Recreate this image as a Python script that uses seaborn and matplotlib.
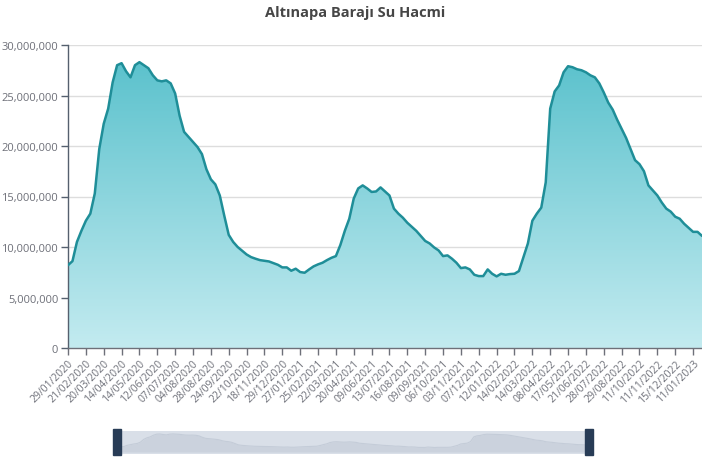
import numpy as np
import pandas as pd
import matplotlib
matplotlib.use("Agg")
import matplotlib.pyplot as plt
from matplotlib.patches import Rectangle
from matplotlib.ticker import FuncFormatter, MultipleLocator
from matplotlib.colors import LinearSegmentedColormap
import seaborn as sns

title = "Altınapa Barajı Su Hacmi"

# date labels shown on the x axis (one every 4 measurements)
tick_labels = [
    "29/01/2020", "21/02/2020", "20/03/2020", "14/04/2020", "14/05/2020", "12/06/2020",
    "07/07/2020", "04/08/2020", "28/08/2020", "24/09/2020", "22/10/2020", "18/11/2020",
    "29/12/2020", "27/01/2021", "25/02/2021", "22/03/2021", "20/04/2021", "09/06/2021",
    "13/07/2021", "16/08/2021", "09/09/2021", "06/10/2021", "03/11/2021", "07/12/2021",
    "12/01/2022", "14/02/2022", "14/03/2022", "08/04/2022", "17/05/2022", "21/06/2022",
    "28/07/2022", "29/08/2022", "11/10/2022", "11/11/2022", "15/12/2022", "11/01/2023",
]
points_per_tick = 4

# water volume, millions of m3
volume_million = [
    8.2, 8.6, 10.5, 11.6, 12.6, 13.3, 15.3, 19.7, 22.2, 23.7,
    26.3, 28.0, 28.2, 27.4, 26.8, 28.0, 28.3, 28.0, 27.7, 27.0,
    26.5, 26.4, 26.5, 26.2, 25.2, 23.0, 21.4, 20.9, 20.4, 19.9,
    19.2, 17.7, 16.7, 16.2, 15.1, 13.1, 11.2, 10.5, 10.0, 9.63,
    9.26, 9.0, 8.84, 8.70, 8.64, 8.57, 8.41, 8.24, 7.98, 7.98,
    7.65, 7.85, 7.52, 7.45, 7.78, 8.08, 8.28, 8.44, 8.70, 8.93,
    9.10, 10.2, 11.6, 12.8, 14.8, 15.8, 16.1, 15.8, 15.45, 15.5,
    15.9, 15.5, 15.1, 13.8, 13.3, 12.9, 12.4, 12.0, 11.6, 11.1,
    10.6, 10.35, 9.96, 9.66, 9.10, 9.17, 8.84, 8.44, 7.91, 7.98,
    7.78, 7.25, 7.12, 7.12, 7.78, 7.35, 7.09, 7.35, 7.25, 7.32,
    7.35, 7.62, 9.0, 10.35, 12.6, 13.3, 13.9, 16.4, 23.7, 25.4,
    26.0, 27.3, 27.9, 27.8, 27.6, 27.5, 27.3, 27.0, 26.8, 26.2,
    25.3, 24.3, 23.6, 22.6, 21.7, 20.8, 19.7, 18.6, 18.2, 17.5,
    16.1, 15.6, 15.1, 14.4, 13.8, 13.5, 13.0, 12.8, 12.3, 11.9,
    11.5, 11.5, 11.1,
]

df = pd.DataFrame({"idx": np.arange(len(volume_million)),
                   "volume": np.array(volume_million) * 1e6})

sns.set_theme(style="white")
plt.rcParams["font.family"] = ["Open Sans", "DejaVu Sans"]

W, H = 702, 460
fig = plt.figure(figsize=(W / 100, H / 100), dpi=100)
fig.patch.set_facecolor("white")

ax = fig.add_axes([68 / W, (H - 349) / H, 634 / W, 303 / H])

line_color = "#1f8e98"
n = len(df)
x = df["idx"].values
y = df["volume"].values

# gradient fill under the curve
grad = LinearSegmentedColormap.from_list("g", ["#c3ebf0", "#5cc2cd"])
img = ax.imshow(np.linspace(0, 1, 256).reshape(-1, 1), cmap=grad, origin="lower",
                extent=[0, n - 1, 0, y.max()], aspect="auto", zorder=1)
poly = ax.fill_between(x, 0, y, color="none", lw=0)
clip = poly.get_paths()[0]
img.set_clip_path(clip, transform=ax.transData)

sns.lineplot(data=df, x="idx", y="volume", ax=ax, color=line_color, lw=1.8, zorder=3)

ax.set_xlim(0, n - 1)
ax.set_ylim(0, 30e6)
ax.yaxis.set_major_locator(MultipleLocator(5e6))
ax.yaxis.set_major_formatter(FuncFormatter(lambda v, p: f"{int(v):,}"))
ax.grid(axis="y", color="#dddddd", lw=1)
ax.set_axisbelow(True)

tick_pos = np.arange(len(tick_labels)) * points_per_tick
ax.set_xticks(tick_pos)
ax.set_xticklabels(tick_labels, rotation=45, ha="right", rotation_mode="anchor",
                   fontsize=7.5, color="#6e7079")
ax.tick_params(axis="x", length=5, width=1, color="#6e7079", pad=2, bottom=True)
ax.tick_params(axis="y", length=5, width=1, color="#55606e", labelsize=8,
               labelcolor="#6e7079", pad=2, left=True)
ax.set_xlabel("")
ax.set_ylabel("")
for s in ["top", "right"]:
    ax.spines[s].set_visible(False)
ax.spines["left"].set_color("#55606e")
ax.spines["bottom"].set_color("#6e7079")
ax.spines["left"].set_linewidth(1)
ax.spines["bottom"].set_linewidth(1)

fig.text(355 / W, 1 - 13 / H, title, ha="center", va="center", fontsize=10.5,
         fontweight="bold", color="#464646")

# data zoom slider at the bottom
sx0, sx1, sy0, sy1 = 120.7, 585, 431.7, 455
sax = fig.add_axes([sx0 / W, (H - sy1) / H, (sx1 - sx0) / W, (sy1 - sy0) / H])
sax.set_facecolor("#d9dfe8")
sax.fill_between(x, 0, y, color="#cbd2dd", lw=0)
sax.plot(x, y, color="#c4ccd8", lw=0.8)
sax.set_xlim(0, n - 1)
sax.set_ylim(-0.11 * y.max(), 1.18 * y.max())
sax.set_xticks([])
sax.set_yticks([])
for s in sax.spines.values():
    s.set_visible(False)

for hx in (112.7, 585):
    fig.add_artist(Rectangle((hx / W, (H - 455.5) / H), 8 / W, 25.5 / H,
                             transform=fig.transFigure, color="#283c56", zorder=5))

fig.savefig("out.png", dpi=100)
